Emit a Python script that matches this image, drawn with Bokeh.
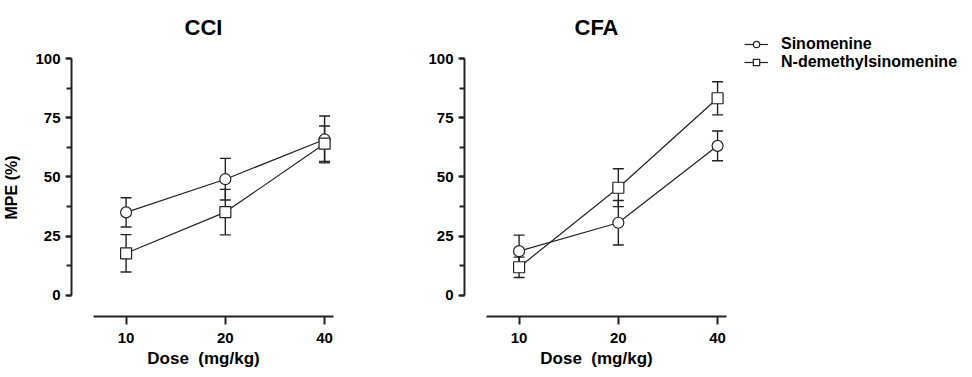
from bokeh.plotting import figure
from bokeh.models import (ColumnDataSource, Whisker, TeeHead, FixedTicker,
                          SingleIntervalTicker, Legend, LegendItem, Range1d,
                          LinearAxis)
from bokeh.layouts import row
from bokeh.embed import file_html
from bokeh.resources import INLINE

# ---------------- data ----------------
doses = ["10", "20", "40"]

cci_sino = [35.0, 49.0, 65.8]
cci_sino_err = [6.2, 8.8, 9.9]
cci_ndm = [17.7, 35.1, 64.0]
cci_ndm_err = [7.9, 9.6, 7.5]

cfa_sino = [18.6, 30.6, 63.1]
cfa_sino_err = [6.8, 9.4, 6.3]
cfa_ndm = [11.8, 45.4, 83.2]
cfa_ndm_err = [4.3, 8.0, 7.0]

series_names = ["Sinomenine", "N-demethylsinomenine"]
series_markers = ["circle", "square"]
panel_titles = ["CCI", "CFA"]

FONT = "Liberation Sans"
INK = "#222222"
pos = list(range(len(doses)))


def make_panel(title, sino, sino_err, ndm, ndm_err, border_left,
               border_right, show_ylabel):
    p = figure(frame_width=264, frame_height=258, output_backend="svg",
               toolbar_location=None, x_range=Range1d(-0.55, 2.11),
               y_range=Range1d(-9, 100.0), min_border_left=border_left,
               min_border_right=border_right, min_border_top=58,
               min_border_bottom=52)
    p.outline_line_color = None
    p.grid.visible = False
    p.background_fill_color = None
    p.border_fill_color = None

    # x axis (bottom)
    xa = p.below[0]
    xa.ticker = FixedTicker(ticks=pos)
    xa.major_label_overrides = {i: d for i, d in zip(pos, doses)}
    xa.bounds = (-0.333, 2.09)
    xa.axis_line_width = 2
    xa.axis_line_color = INK
    xa.major_tick_line_width = 2
    xa.major_tick_line_color = INK
    xa.major_tick_out = 8
    xa.major_tick_in = 0
    xa.minor_tick_line_color = None
    xa.major_label_text_font = FONT
    xa.major_label_text_font_size = "15px"
    xa.major_label_text_font_style = "bold"
    xa.major_label_text_color = "black"
    xa.major_label_standoff = 8
    xa.axis_label = "Dose\u00a0 (mg/kg)"
    xa.axis_label_text_font = FONT
    xa.axis_label_text_font_size = "17px"
    xa.axis_label_text_font_style = "bold"
    xa.axis_label_text_color = "black"
    xa.axis_label_standoff = 3

    # y axis (left)
    ya = p.left[0]
    ya.ticker = SingleIntervalTicker(interval=25, num_minor_ticks=2)
    ya.bounds = (0, 100)
    ya.axis_line_width = 2
    ya.axis_line_color = INK
    ya.major_tick_line_width = 2
    ya.major_tick_line_color = INK
    ya.major_tick_out = 6
    ya.major_tick_in = 0
    ya.minor_tick_line_width = 2
    ya.minor_tick_line_color = INK
    ya.minor_tick_out = 5
    ya.minor_tick_in = 0
    ya.major_label_text_font = FONT
    ya.major_label_text_font_size = "15px"
    ya.major_label_text_font_style = "bold"
    ya.major_label_text_color = "black"
    ya.major_label_standoff = 5
    if show_ylabel:
        ya.axis_label = "MPE (%)"
        ya.axis_label_text_font = FONT
        ya.axis_label_text_font_size = "16px"
        ya.axis_label_text_font_style = "bold"
        ya.axis_label_text_color = "black"
        ya.axis_label_standoff = 12

    # panel title as the label of a bare axis above the frame
    ta = LinearAxis(ticker=FixedTicker(ticks=[]), axis_label=title,
                    axis_line_color=None, major_tick_line_color=None,
                    minor_tick_line_color=None, major_tick_out=0,
                    major_label_standoff=0, axis_label_standoff=19,
                    axis_label_text_font=FONT,
                    axis_label_text_font_size="22px",
                    axis_label_text_font_style="bold",
                    axis_label_text_color="black")
    p.add_layout(ta, "above")

    for vals, errs, marker in [(sino, sino_err, series_markers[0]),
                               (ndm, ndm_err, series_markers[1])]:
        src = ColumnDataSource(dict(
            x=pos, y=vals,
            upper=[v + e for v, e in zip(vals, errs)],
            lower=[v - e for v, e in zip(vals, errs)]))
        w = Whisker(base="x", upper="upper", lower="lower", source=src,
                    line_color=INK, line_width=1.4,
                    upper_head=TeeHead(size=11, line_color=INK, line_width=1.4),
                    lower_head=TeeHead(size=11, line_color=INK, line_width=1.4))
        p.add_layout(w)
        p.line("x", "y", source=src, line_color=INK, line_width=1.2)
        p.scatter("x", "y", source=src, marker=marker, size=11,
                  fill_color="white", line_color=INK, line_width=1.2)
    return p


left = make_panel(panel_titles[0], cci_sino, cci_sino_err, cci_ndm, cci_ndm_err,
                  border_left=70, border_right=66, show_ylabel=True)
right = make_panel(panel_titles[1], cfa_sino, cfa_sino_err, cfa_ndm, cfa_ndm_err,
                   border_left=63, border_right=8, show_ylabel=False)

# legend panel (its renderers hold the CCI series, kept outside its view)
lg = figure(frame_width=221, frame_height=361, output_backend="svg",
            toolbar_location=None, x_range=Range1d(100, 101),
            y_range=Range1d(100, 101), min_border=0)
lg.axis.visible = False
lg.grid.visible = False
lg.outline_line_color = None
lg.background_fill_color = None
lg.border_fill_color = None
items = []
for name, marker, vals in zip(series_names, series_markers, [cci_sino, cci_ndm]):
    src = ColumnDataSource(dict(x=pos, y=vals))
    ln = lg.line("x", "y", source=src, line_color=INK, line_width=1.2)
    sc = lg.scatter("x", "y", source=src, marker=marker, size=10,
                    fill_color="white", line_color=INK, line_width=1.2)
    items.append(LegendItem(label=name, renderers=[ln, sc]))
leg = Legend(items=items, location=(8, 290), glyph_width=24,
             glyph_height=16, label_standoff=13, spacing=-6, padding=0,
             margin=0, border_line_color=None, background_fill_alpha=0,
             label_text_font=FONT, label_text_font_size="16px",
             label_text_font_style="bold", label_text_color="black",
             label_height=16)
lg.add_layout(leg, "center")

layout = row(left, right, lg)
open("out.html", "w").write(file_html(layout, INLINE))
